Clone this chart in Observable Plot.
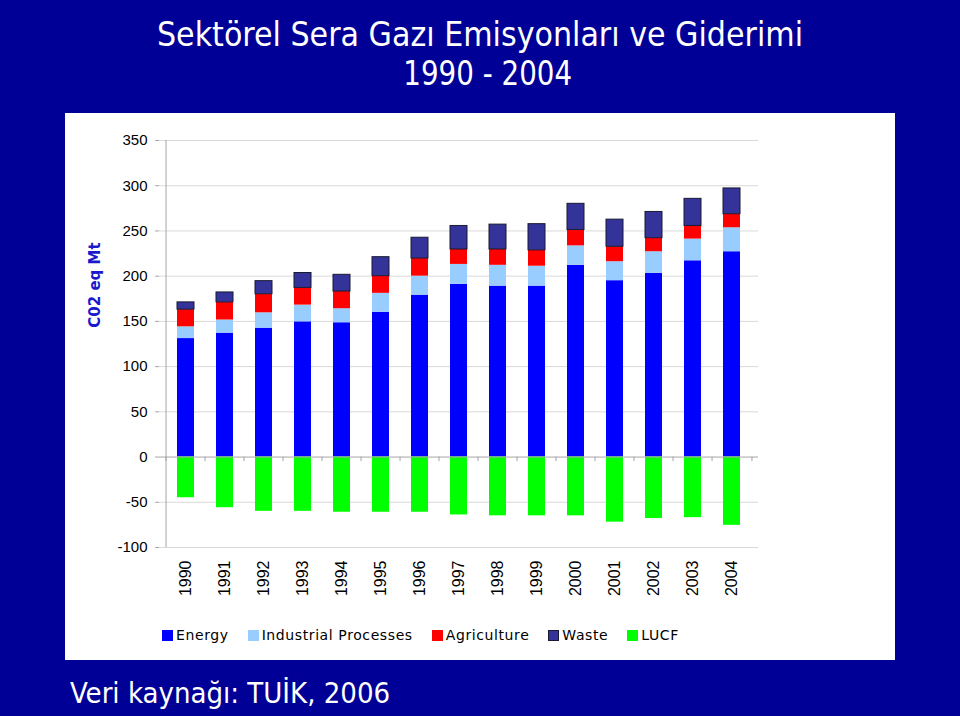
<!DOCTYPE html>
<html>
<head>
<meta charset="utf-8">
<script src="https://cdn.jsdelivr.net/npm/d3@7"></script>
<script src="https://cdn.jsdelivr.net/npm/@observablehq/plot@0.6"></script>
<style>
  html, body { margin: 0; padding: 0; }
  body { width: 960px; height: 716px; background: #000096; position: relative; overflow: hidden; }
  #title { position: absolute; left: 0; top: 15px; width: 960px; text-align: center; color: #fff;
    font-family: "DejaVu Sans Condensed", "DejaVu Sans", sans-serif; font-stretch: condensed; font-size: 33.5px; line-height: 39px; }
  #title .l2 { display: inline-block; transform: translateX(8px) scaleX(0.92); }
  #panel { position: absolute; left: 65px; top: 113px; width: 830px; height: 547px; background: #fff; }
  #chart { position: absolute; left: 0; top: 0; }
  #ylabel { position: absolute; left: 30px; top: 172px; width: 0; height: 0; }
  #ylabel span { position: absolute; transform: translate(-50%, -50%) rotate(-90deg); white-space: nowrap;
    font-family: "DejaVu Sans", Verdana, sans-serif; font-weight: bold; font-size: 15px; color: #1a1acc; }
  #legend { position: absolute; left: 97px; top: 514px; display: flex; gap: 19px; align-items: center;
    font-family: "DejaVu Sans", Verdana, sans-serif; font-size: 14px; letter-spacing: 0.6px; color: #000; }
  #legend .item { display: flex; align-items: center; gap: 3px; }
  #legend .sw { width: 11px; height: 11px; box-sizing: border-box; }
  #caption { position: absolute; left: 70px; top: 676px; color: #fff;
    font-family: "DejaVu Sans Condensed", "DejaVu Sans", sans-serif; font-stretch: condensed; font-size: 29px; line-height: 34px; }
  #chart g[aria-label="x-axis"] text, #chart g[aria-label="x-axis tick label"] text { font-size: 16px; }
  #chart g[aria-label="y-axis"] text, #chart g[aria-label="y-axis tick label"] text { font-size: 15px; }
  #chart g[aria-label="y-axis"] line, #chart g[aria-label="y-axis tick"] path { stroke: #a6a6a6; }
</style>
</head>
<body>
<div id="title">Sektörel Sera Gazı Emisyonları ve Giderimi<br><span class="l2">1990 - 2004</span></div>
<div id="panel">
  <div id="chart"></div>
  <div id="ylabel"><span>C02 eq Mt</span></div>
  <div id="legend"></div>
</div>
<div id="caption">Veri kaynağı: TUİK, 2006</div>
<script>
const years = ["1990","1991","1992","1993","1994","1995","1996","1997","1998","1999","2000","2001","2002","2003","2004"];
const series = ["Energy", "Industrial Processes", "Agriculture", "Waste", "LUCF"];
const colors = ["#0000ff", "#99ccff", "#ff0000", "#333399", "#00ff00"];
const energy      = [131, 137, 142.5, 149.5, 148.5, 160, 179, 191, 189, 189, 212, 195, 203, 217, 227];
const industrial  = [13, 14.5, 17, 18.5, 15.5, 21, 21, 22, 23, 22, 21.5, 21, 24, 24, 26.5];
const agriculture = [19, 19.5, 20.5, 19, 19, 19, 19.5, 16.5, 17.5, 17.5, 17.5, 16.5, 15, 14.5, 15];
const waste       = [8, 11, 14.5, 16.5, 18.5, 21, 23, 26, 27.5, 29, 29, 30, 29, 30, 28.5];
const lucf        = [-45, -56, -60, -60, -61, -61, -61, -64, -65, -65, -65, -72, -68, -67, -75.5];
const yTicks = [-100, -50, 0, 50, 100, 150, 200, 250, 300, 350];

const values = [energy, industrial, agriculture, waste, lucf];
const data = [];
series.forEach((s, si) => years.forEach((yr, i) => data.push({year: yr, series: s, value: values[si][i]})));

const W = 830, H = 500, mL = 94, mR = 137, mT = 27, mB = 66;
const step = (W - mL - mR) / years.length;

const chart = Plot.plot({
  width: W, height: H,
  marginTop: mT, marginBottom: mB, marginLeft: mL, marginRight: mR,
  style: {background: "transparent", fontFamily: "'Liberation Sans', Arial, sans-serif", fontSize: "14px", color: "#000"},
  x: {domain: years, paddingInner: 0.57, paddingOuter: 0.285, label: null, tickSize: 0, tickPadding: 13, tickRotate: -90},
  y: {domain: [-100, 350], ticks: yTicks, label: null, tickSize: 4, tickPadding: 8, tickFormat: d => String(d)},
  color: {domain: series, range: colors},
  opacity: {domain: [0, 1], range: [0, 1]},
  marks: [
    Plot.ruleY(yTicks.filter(t => t !== 0), {stroke: "#d9d9d9"}),
    Plot.ruleX([years[0]], {dx: -step / 2, y1: -100, y2: 350, stroke: "#a6a6a6"}),
    Plot.barY(data, Plot.stackY({
      x: "year", y: "value", fill: "series",
      stroke: "#1a1a33", strokeWidth: 1,
      strokeOpacity: d => d.series === "Waste" ? 1 : 0
    })),
    Plot.ruleY([0], {stroke: "#a6a6a6"}),
    Plot.ruleX(years, {x: d => d, dx: -step / 2, y1: 0, y2: -5, stroke: "#a6a6a6"}),
    Plot.ruleX([years[years.length - 1]], {dx: step / 2, y1: 0, y2: -5, stroke: "#a6a6a6"})
  ]
});
document.getElementById("chart").appendChild(chart);

const legend = document.getElementById("legend");
series.forEach((s, i) => {
  const item = document.createElement("div");
  item.className = "item";
  const sw = document.createElement("div");
  sw.className = "sw";
  sw.style.background = colors[i];
  if (s === "Waste") sw.style.border = "1px solid #1a1a33";
  const t = document.createElement("span");
  t.textContent = s;
  item.appendChild(sw); item.appendChild(t);
  legend.appendChild(item);
});
</script>
</body>
</html>
